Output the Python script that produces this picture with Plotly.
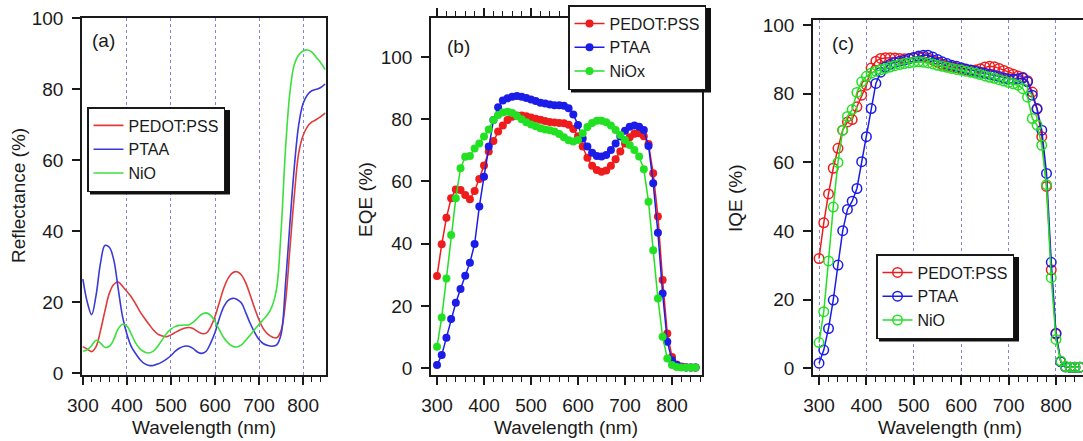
import plotly.graph_objects as go

W, H = 1083, 441

# ---------------- data ----------------
WL = [300, 310, 320, 330, 340, 350, 360, 370, 380, 390,
      400, 410, 420, 430, 440, 450, 460, 470, 480, 490,
      500, 510, 520, 530, 540, 550, 560, 570, 580, 590,
      600, 610, 620, 630, 640, 650, 660, 670, 680, 690,
      700, 710, 720, 730, 740, 750, 760, 770, 780, 790,
      800, 810, 820, 830, 840, 850]

# (a) Reflectance (%)
R_PEDOT = [7.5, 6.8, 6.1, 7.5, 12, 17.5, 22.5, 25, 25.7, 24.5,
           23, 21.5, 19.5, 17.3, 15.5, 13.8, 12.2, 11, 10.5, 10.3,
           10.8, 11.5, 12.2, 12.7, 12.9, 12.6, 11.8, 11.2, 11.3, 13,
           16, 20, 24, 26.8, 28.3, 28.6, 27.7, 25.4, 22, 18.3,
           15, 12.5, 11, 10.2, 10, 12, 20, 35, 50, 62,
           67, 69.5, 70.8, 71.5, 72.3, 73.3]
R_PTAA = [26.5, 20, 16.5, 22, 31, 36, 35.5, 32, 24, 16,
          11, 7.5, 5.5, 3.8, 2.7, 2.2, 2.2, 2.6, 3.2, 4,
          5, 6.2, 7.1, 7.6, 7.6, 7, 6, 5.6, 6.2, 8.5,
          11.5, 15.5, 18.8, 20.5, 21.1, 20.8, 19.8, 17, 14, 11.5,
          9.5, 8.3, 7.8, 7.6, 8, 11, 25, 42, 58, 70,
          76, 78.5, 79.6, 80, 80.5, 81.5]
R_NIO = [6.2, 6.6, 7.8, 9.3, 8.5, 7.3, 7.6, 9.5, 12.5, 13.8,
         13.3, 11, 8.5, 6.8, 6, 5.7, 6.2, 7.6, 9.4, 11.2,
         12.4, 13.2, 13.5, 13.6, 13.6, 14.3, 15.5, 16.6, 17, 16.3,
         14.6, 12.2, 10, 8.5, 7.6, 7.4, 8, 9.3, 10.8, 12.3,
         13.8, 15.2, 16.6, 19, 24, 40, 63, 79, 87, 89.7,
         90.8, 91.1, 90.5, 89, 87.5, 85.6]

# (b) EQE (%)
EQE_PEDOT = [29.6, 39.8, 48.3, 54.6, 57.4, 57.2, 55.6, 54.3, 56.9, 60.8,
             65.1, 69.6, 73, 76, 78, 79.7, 80.8, 81.2, 81.2, 80.9,
             80.5, 80.1, 79.8, 79.4, 79.1, 78.9, 78.8, 78.7, 78.2, 76.8,
             74.5, 71.2, 67.6, 65, 63.7, 63.1, 63.5, 65, 67.1, 69.6,
             72.2, 74.2, 75.3, 75.5, 74.5, 72, 62.6, 48.7, 28.3, 11.1,
             3.6, 1.2, 0.5, 0.3, 0.2, 0.2]
EQE_PTAA = [1.0, 4.2, 9.8, 15.8, 21, 25.4, 29.7, 33.9, 39.9, 51.9,
            61.5, 71.2, 79.7, 83.8, 86, 86.7, 87.2, 87.4, 87.2, 86.8,
            86.3, 85.8, 85.3, 85, 84.7, 84.5, 84.5, 84.3, 83.5, 81.5,
            78.1, 73.8, 71.2, 69.2, 68.2, 68, 68.5, 70.1, 72.2, 74.4,
            76.3, 77.6, 78, 77.6, 76.5, 71.4, 59.4, 43.5, 24, 8.5,
            2.5, 1, 0.4, 0.2, 0.2, 0.2]
EQE_NIOX = [6.9, 16.3, 28.8, 42.8, 54.6, 64.2, 67.9, 68.2, 70.6, 72.2,
            74.4, 76.7, 79.7, 81.3, 82.1, 82.4, 82, 81, 80, 79,
            78.3, 77.7, 77.1, 76.7, 76.4, 76, 75.2, 74.2, 73.2, 72.8,
            73.3, 75.5, 77.5, 78.8, 79.5, 79.5, 79, 78, 76.5, 74.9,
            73.3, 71.7, 70.1, 68, 63.9, 53.5, 37.9, 22.4, 10.1, 3.1,
            1.0, 0.4, 0.2, 0.2, 0.2, 0.2]

# (c) IQE (%)
IQE_PEDOT = [32, 42.4, 50.8, 58.3, 64.1, 69.4, 71.8, 72.5, 76.2, 79.6,
             82.5, 87.5, 89.5, 90.3, 90.5, 90.5, 90.4, 90.3, 90.2, 90.3,
             90.5, 90.7, 90.7, 90.4, 89.8, 89.2, 88.6, 88.2, 87.9, 87.6,
             87.3, 87, 86.8, 86.9, 87.3, 87.8, 88, 87.9, 87.4, 86.8,
             86.2, 85.7, 85.2, 84.8, 83.8, 80.5, 75.5, 67.5, 53, 28.7,
             10, 2, 0.5, 0.3, 0.3, 0.3]
IQE_PTAA = [1.5, 5.3, 11.6, 19.9, 30.1, 40.1, 46.3, 48.7, 52.4, 60.2,
            67.5, 75.7, 83, 86.3, 87.8, 88.6, 89.1, 89.5, 89.8, 90.2,
            90.6, 91, 91.2, 91.2, 90.7, 90, 89.3, 88.8, 88.3, 88,
            87.6, 87.2, 86.9, 86.6, 86.3, 86, 85.7, 85.3, 85, 84.6,
            84.3, 84.2, 84.4, 84.6, 83.5, 79.6, 75.7, 69.4, 56.8, 30.9,
            10.2, 1.9, 0.4, 0.3, 0.3, 0.3]
IQE_NIO = [7.5, 16.5, 31.3, 47, 60, 69.4, 73.4, 75.4, 80.4, 83.5,
           85.1, 86, 86.6, 87, 87.4, 87.8, 88.2, 88.5, 88.8, 89,
           89.2, 89.3, 89.2, 89, 88.7, 88.3, 88, 87.7, 87.4, 87.1,
           86.9, 86.6, 86.3, 86, 85.6, 85.2, 84.8, 84.5, 84.1, 83.7,
           83.3, 82.9, 82.5, 81.5, 79, 72.8, 70.9, 65, 53.5, 26.4,
           8.4, 2.1, 0.5, 0.3, 0.3, 0.3]

NAMES_A = ["PEDOT:PSS", "PTAA", "NiO"]
NAMES_B = ["PEDOT:PSS", "PTAA", "NiOx"]
NAMES_C = ["PEDOT:PSS", "PTAA", "NiO"]

# ---------------- styling ----------------
RED, BLUE, GREEN = "#ee1c1c", "#1c1ce8", "#22e022"
RED_A, BLUE_A, GREEN_A = "#e03a3a", "#3a3ad6", "#3ce03c"
FONT = "Liberation Sans, Arial, Helvetica, sans-serif"
INK = "#1a1a1a"
GRID = "rgba(90,90,220,0.75)"
LEG_FS = 16
LEG_W, LEG_H = 140, 84.5   # rendered legend box size (px) for LEG_FS


def px(x):
    return x / W


def py(y):
    return 1 - y / H


fig = go.Figure()

# (a)
for ys, nm, col in zip([R_PEDOT, R_PTAA, R_NIO], NAMES_A, [RED_A, BLUE_A, GREEN_A]):
    fig.add_trace(go.Scatter(x=WL, y=ys, name=nm, mode="lines",
                             line=dict(color=col, width=1.6, shape="spline", smoothing=1.0),
                             xaxis="x", yaxis="y", legend="legend"))
# (b)
for ys, nm, col in zip([EQE_PEDOT, EQE_PTAA, EQE_NIOX], NAMES_B, [RED, BLUE, GREEN]):
    fig.add_trace(go.Scatter(x=WL, y=ys, name=nm, mode="lines+markers",
                             line=dict(color=col, width=1.5),
                             marker=dict(color=col, size=8, line=dict(width=0)),
                             xaxis="x2", yaxis="y2", legend="legend2"))
# (c)
for ys, nm, col in zip([IQE_PEDOT, IQE_PTAA, IQE_NIO], NAMES_C, [RED, BLUE, GREEN]):
    fig.add_trace(go.Scatter(x=WL, y=ys, name=nm, mode="lines+markers",
                             line=dict(color=col, width=1.5),
                             marker=dict(symbol="circle-open", color=col, size=9.5,
                                         line=dict(width=1.5, color=col)),
                             xaxis="x3", yaxis="y3", legend="legend3"))

ydom = [py(375), py(18)]


def xax(dom, rng, grid, mirror):
    return dict(domain=dom, range=rng, showgrid=grid, gridcolor=GRID, griddash="dot", gridwidth=1,
                tickmode="linear", tick0=300, dtick=100, ticks="outside", ticklen=8, tickwidth=1.5,
                tickcolor=INK, showline=True, linecolor=INK, linewidth=1.5, mirror=mirror,
                zeroline=False, tickfont=dict(family=FONT, size=19, color=INK),
                minor=dict(ticks="outside", ticklen=5, tickwidth=1.2, dtick=20, tickcolor=INK, showgrid=False),
                ticklabelstandoff=4, automargin=False)


def yax(anchor, dom, rng, mirror):
    return dict(anchor=anchor, domain=dom, range=rng, showgrid=False, zeroline=False,
                tickmode="linear", tick0=0, dtick=20, ticks="outside", ticklen=8, tickwidth=1.5,
                tickcolor=INK, showline=True, linecolor=INK, linewidth=1.5, mirror=mirror,
                tickfont=dict(family=FONT, size=19, color=INK), ticklabelstandoff=5,
                automargin=False)


leg_common = dict(bgcolor="white", bordercolor=INK, borderwidth=1.5,
                  font=dict(family=FONT, size=LEG_FS, color=INK), xanchor="left", yanchor="top",
                  tracegroupgap=0, itemwidth=30)

LEG_POS = [(87, 107), (568, 5), (876, 254)]   # legend box left x, top y (px)

fig.update_layout(
    width=W, height=H, margin=dict(l=0, r=0, t=0, b=0, autoexpand=False),
    paper_bgcolor="white", plot_bgcolor="white",
    xaxis=dict(anchor="y", **xax([px(82), px(326)], [298, 852], True, True)),
    yaxis=yax("x", ydom, [-0.5, 100.1], True),
    xaxis2=dict(anchor="y2", **xax([px(431), px(702)], [287.2, 863.8], False, "ticks")),
    yaxis2=yax("x2", ydom, [-2.2, 112.5], True),
    xaxis3=dict(anchor="y3", **xax([px(813), 1.0], [287.3, 857], True, True)),
    yaxis3=yax("x3", [py(375), py(20)], [-1.95, 101.5], False),
    legend=dict(x=px(LEG_POS[0][0]), y=py(LEG_POS[0][1]), **leg_common),
    legend2=dict(x=px(LEG_POS[1][0]), y=py(LEG_POS[1][1]), **leg_common),
    legend3=dict(x=px(LEG_POS[2][0]), y=py(LEG_POS[2][1]), **leg_common),
    showlegend=True,
)

# legend drop shadows
for (lx, ty) in LEG_POS:
    fig.add_shape(type="rect", xref="paper", yref="paper",
                  x0=px(lx + 3), x1=px(lx + LEG_W + 3), y0=py(ty + LEG_H + 3), y1=py(ty + 3),
                  fillcolor="#111", line=dict(width=0), layer="above")

# panel labels
for txt, x, y in [("(a)", 90, 40), ("(b)", 445, 47), ("(c)", 830, 43)]:
    fig.add_annotation(text=txt, x=px(x), y=py(y), xref="paper", yref="paper",
                       xanchor="left", yanchor="middle", showarrow=False,
                       font=dict(family=FONT, size=19, color=INK))

# axis titles
for x in [204, 566, 950]:
    fig.add_annotation(text="Wavelength (nm)", x=px(x), y=py(427), xref="paper", yref="paper",
                       xanchor="center", yanchor="middle", showarrow=False,
                       font=dict(family=FONT, size=19, color=INK))
for txt, x, y in [("Reflectance (%)", 18, 196), ("EQE (%)", 365, 200), ("IQE (%)", 735, 198)]:
    fig.add_annotation(text=txt, x=px(x), y=py(y), xref="paper", yref="paper",
                       xanchor="center", yanchor="middle", showarrow=False, textangle=-90,
                       font=dict(family=FONT, size=19, color=INK))

fig.write_html("out.html")
